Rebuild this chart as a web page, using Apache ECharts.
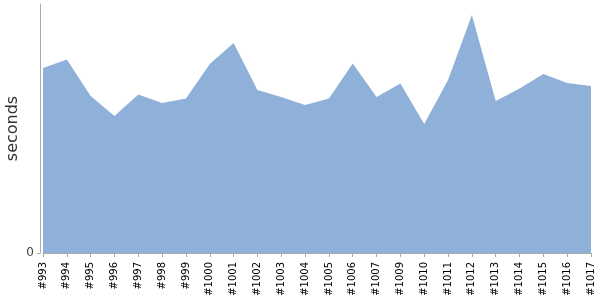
<!DOCTYPE html>
<html><head><meta charset="utf-8">
<script src="https://cdn.jsdelivr.net/npm/echarts@6/dist/echarts.min.js"></script>
<style>html,body{margin:0;padding:0;background:#fff}#c{width:600px;height:300px}</style>
</head><body><div id="c"></div>
<script>
var categories = ['#993','#994','#995','#996','#997','#998','#999','#1000','#1001','#1002','#1003','#1004','#1005','#1006','#1007','#1009','#1010','#1011','#1012','#1013','#1014','#1015','#1016','#1017'];
var seconds = [185,193.5,157,137,158.5,150,154.5,189,210,163,156,148,154.5,189.5,156,169.5,129,173,238,152,164.5,179,170,167];
var yTickValues = [0];
var yTickLabels = ['0'];
var yMax = 249;

var chart = echarts.init(document.getElementById('c'), null, {renderer:'canvas'});
chart.setOption({
  animation:false,
  grid:{left:43,right:9,top:4,bottom:47,containLabel:false,outerBoundsMode:'none'},
  xAxis:{
    type:'category', data:categories, boundaryGap:false, offset:4,
    axisLine:{lineStyle:{color:'#aaaaaa',width:1}},
    axisTick:{show:true,length:4,lineStyle:{color:'#aaaaaa'}},
    axisLabel:{rotate:90,interval:0,fontSize:10,fontFamily:'DejaVu Sans',color:'#000',margin:5,hideOverlap:false}
  },
  yAxis:{
    type:'value', min:0, max:yMax, offset:3,
    name:'seconds', nameLocation:'middle', nameGap:19, nameMoveOverlap:false,
    nameTextStyle:{fontSize:16,fontFamily:'DejaVu Sans',color:'#333'},
    axisLine:{show:true,lineStyle:{color:'#aaaaaa',width:1}},
    axisTick:{show:true,length:3,customValues:yTickValues,lineStyle:{color:'#aaaaaa'}},
    splitLine:{show:false},
    axisLabel:{fontSize:12,fontFamily:'DejaVu Sans',color:'#444',margin:6,customValues:yTickValues,
      formatter:function(v){return yTickLabels[yTickValues.indexOf(v)] || '';}}
  },
  series:[{
    type:'line', data:seconds, symbol:'none',
    lineStyle:{width:0,color:'#8fb1d9'},
    areaStyle:{color:'#8fb1d9',opacity:1}
  }]
});
</script></body></html>
